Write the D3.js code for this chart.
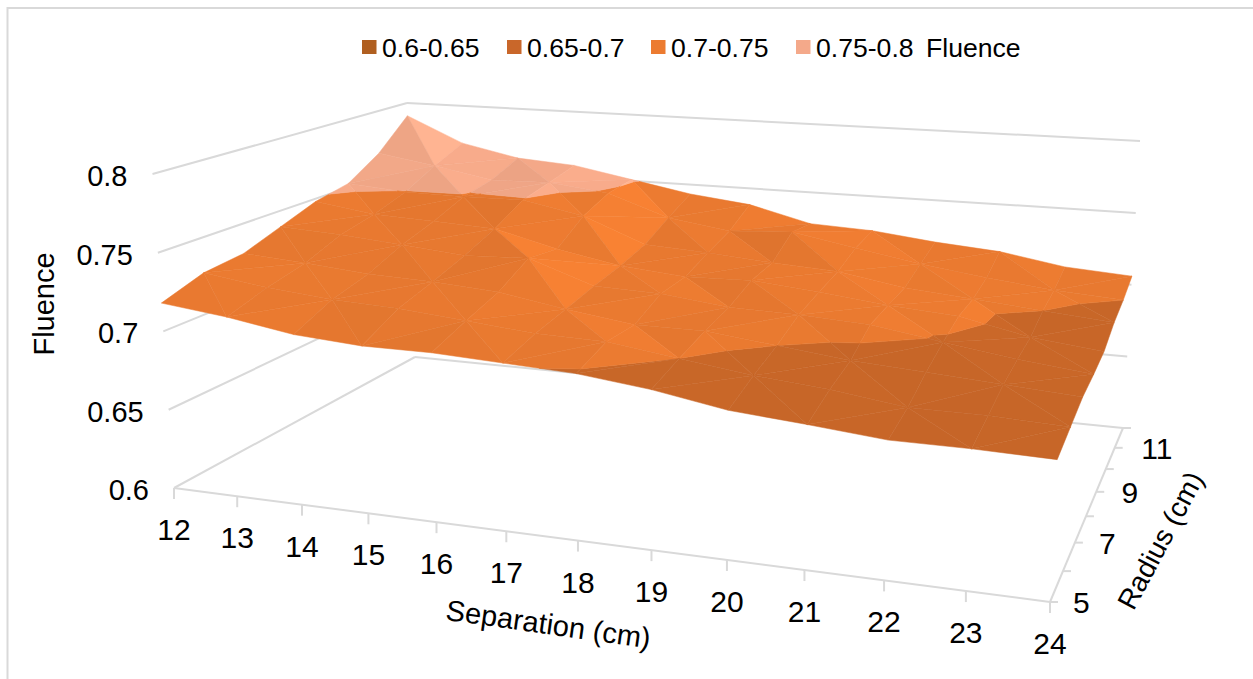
<!DOCTYPE html>
<html>
<head>
<meta charset="utf-8">
<style>
html,body{margin:0;padding:0;background:#fff;}
svg{display:block;}
text{font-family:"Liberation Sans",Arial,sans-serif;fill:#000;}
</style>
<script src="https://cdn.jsdelivr.net/npm/d3@7"></script>
</head>
<body>
<svg id="chart" width="1253" height="679"></svg>
<script>
const separations = [12,13,14,15,16,17,18,19,20,21,22,23,24];
const radii = [5,6,7,8,9,10,11,12];
const radiusLabels = [5,7,9,11];
const fluenceTicks = [0.6,0.65,0.7,0.75,0.8];
const bandEdges = [0.6,0.65,0.7,0.75,0.8];
const bandNames = ["0.6-0.65","0.65-0.7","0.7-0.75","0.75-0.8"];
const legendColors = ["#B05F20","#C9672A","#EC7B30","#F4A98A"];
const surfaceColors = ["#B05F20","#C76628","#E87930","#F3A888"];

// fluence by radius (rows) and separation (columns)
const r5  = [.718,.713,.706,.703,.703,.701,.699,.694,.6865,.683,.679,.679,.678];
const r6  = [.727,.721,.717,.715,.711,.707,.706,.700,.694,.690,.684,.684,.682];
const r7  = [.730,.727,.723,.7215,.7185,.711,.705,.705,.700,.695,.692,.689,.686];
const r8  = [.739,.7365,.733,.729,.7305,.7155,.714,.709,.708,.7055,.6985,.692,.687];
const r9  = [.748,.742,.740,.738,.727,.719,.715,.716,.712,.707,.7035,.694,.689];
const r10 = [.753,.7495,.749,.7495,.741,.724,.7215,.718,.7155,.708,.704,.700,.696];
const r11 = [.768,.761,.753,.754,.749,.734,.7275,.730,.722,.714,.708,.703,.700];
const r12 = [.790,.771,.762,.759,.751,.743,.738,.727,.725,.720,.7165,.709,.706];
const fluence = [r5,r6,r7,r8,r9,r10,r11,r12];

const svg = d3.select("#chart");

// box corners on the page: floor (f) and top (t); l/r = low/high separation, n/b = low/high radius
const box = {
  fln:[174,488], frn:[1050,602], frb:[1123,428], flb:[415,357],
  tln:[152.5,174], trn:[1068.5,236], trb:[1140,141], tlb:[407,103]
};

// projective map of the unit square onto a quad
function quadMap(p00,p10,p11,p01){
  const dx1=p10[0]-p11[0],dx2=p01[0]-p11[0],sx=p00[0]-p10[0]+p11[0]-p01[0];
  const dy1=p10[1]-p11[1],dy2=p01[1]-p11[1],sy=p00[1]-p10[1]+p11[1]-p01[1];
  const det=dx1*dy2-dx2*dy1;
  const g=(sx*dy2-dx2*sy)/det,h=(dx1*sy-sx*dy1)/det;
  const a=p10[0]-p00[0]+g*p10[0],b=p01[0]-p00[0]+h*p01[0],c=p00[0];
  const d=p10[1]-p00[1]+g*p10[1],e=p01[1]-p00[1]+h*p01[1],f=p00[1];
  return (u,v)=>{const w=g*u+h*v+1;return [(a*u+b*v+c)/w,(d*u+e*v+f)/w];};
}
const floorMap = quadMap(box.fln,box.frn,box.frb,box.flb);
const topMap   = quadMap(box.tln,box.trn,box.trb,box.tlb);

const sepScale = d3.scaleLinear().domain([12,24]).range([0,1]);
const radScale = d3.scaleLinear().domain([5,12]).range([0,1]);
const zScale   = d3.scalePow().exponent(1.03).domain([0.6,0.8]).range([0,1]);

function project(s,r,z){
  const u=sepScale(s),v=radScale(r),a=floorMap(u,v),b=topMap(u,v),t=zScale(z);
  return [a[0]+(b[0]-a[0])*t,a[1]+(b[1]-a[1])*t];
}

// walls and floor outline
const grid="#D9D9D9";
const line=(p,q)=>svg.append("line").attr("x1",p[0]).attr("y1",p[1]).attr("x2",q[0]).attr("y2",q[1])
  .attr("stroke",grid).attr("stroke-width",2);
fluenceTicks.forEach(z=>{
  const a=project(12,5,z),b=project(12,12,z),c=project(24,12,z);
  line(a,b);line(b,c);
});
line(project(12,5,.6),project(24,5,.6));
line(project(24,5,.6),project(24,12,.6));

// tick marks on the floor edges
separations.forEach(s=>{
  const p=project(s,5,.6);
  line(p,[p[0],p[1]+11]);
});
radii.forEach(r=>{
  const p=project(24,r,.6);
  line(p,[p[0]+8,p[1]]);
});

// split a triangle along the contour levels, returning one polygon per band
function clipBand(tri,lo,hi){
  const clip=(pts,level,keepAbove)=>{
    const out=[];
    pts.forEach((p,i)=>{
      const q=pts[(i+1)%pts.length];
      const pin=keepAbove?p[2]>=level:p[2]<=level,qin=keepAbove?q[2]>=level:q[2]<=level;
      if(pin)out.push(p);
      if(pin!==qin){
        const t=(level-p[2])/(q[2]-p[2]);
        out.push([p[0]+(q[0]-p[0])*t,p[1]+(q[1]-p[1])*t,level]);
      }
    });
    return out;
  };
  let pts=clip(tri,lo,true);
  if(pts.length)pts=clip(pts,hi,false);
  return pts;
}

// facet brightness from its slope along separation and radius: lit from the high-separation side
function facetShade(tri){
  const [p,q,w]=tri;
  const ux=q[0]-p[0],uy=q[1]-p[1],uz=q[2]-p[2];
  const vx=w[0]-p[0],vy=w[1]-p[1],vz=w[2]-p[2];
  const det=ux*vy-vx*uy;
  const a=(uz*vy-vz*uy)/det, b=(ux*vz-vx*uz)/det;
  return Math.max(0.96,Math.min(1.1,1.0-5*a-2.5*b));
}

// each cell is cut along one diagonal; the cut alternates across the mesh
const facets=[];
for(let j=radii.length-2;j>=0;j--){
  for(let i=0;i<separations.length-1;i++){
    const [a,b,c,d]=[[i,j],[i+1,j],[i+1,j+1],[i,j+1]].map(([m,n])=>[separations[m],radii[n],fluence[n][m]]);
    const wanted=(i===6)?0:1;
    if((i+j)%2===wanted){ facets.push([d,c,a],[a,c,b]); }   // diagonal a-c
    else { facets.push([d,c,b],[d,b,a]); }                  // diagonal b-d
  }
}
const pathOf=d3.line();
const surface=svg.append("g");
facets.forEach(tri=>{
  const raw=facetShade(tri);
  surfaceColors.forEach((col,k)=>{
    const poly=clipBand(tri,bandEdges[k],bandEdges[k+1]);
    if(poly.length<3)return;
    // the darker bands carry less facet contrast
    const shade=k<2?1+(raw-1)*0.5:raw;
    const c=d3.color(col).rgb();
    const fill=d3.rgb(Math.min(255,c.r*shade),Math.min(255,c.g*shade),Math.min(255,c.b*shade));
    const pts=poly.map(p=>project(p[0],p[1],p[2]));
    surface.append("path").attr("d",pathOf(pts)+"Z").attr("fill",fill).attr("stroke",fill).attr("stroke-width",0.5);
  });
});

// axis labels
const label=(x,y,txt,size,rot,anchor)=>svg.append("text").attr("transform",`translate(${x},${y}) rotate(${rot||0})`)
  .attr("font-size",size).attr("text-anchor",anchor||"middle").text(txt);
fluenceTicks.forEach(z=>{
  const p=project(12,5,z);
  label(p[0]-25,p[1]+12,String(z),29,0,"end");
});
separations.forEach(s=>{
  const p=project(s,5,.6);
  label(p[0],p[1]+52,String(s),30);
});
radiusLabels.forEach(r=>{
  const p=project(24,r,.6);
  label(p[0]+23+(r-5)*0.6,p[1]+11,String(r),30,0,"start");
});
label(54,304,"Fluence",29,-90);
label(547,634,"Separation (cm)",29,8);
label(1169,545,"Radius (cm)",28,-62);

// legend
const legendX=[362,507,651,796];
bandNames.forEach((n,k)=>{
  svg.append("rect").attr("x",legendX[k]).attr("y",40).attr("width",14.5).attr("height",14).attr("fill",legendColors[k]);
  svg.append("text").attr("x",legendX[k]+20).attr("y",56.5).attr("font-size",26.6).text(n);
});
svg.append("text").attr("x",926).attr("y",56.5).attr("font-size",26.6).text("Fluence");

// frame
svg.append("path").attr("d","M7.5,679V8H1253").attr("stroke","#D9D9D9").attr("stroke-width",2).attr("fill","none");
</script>
</body>
</html>
